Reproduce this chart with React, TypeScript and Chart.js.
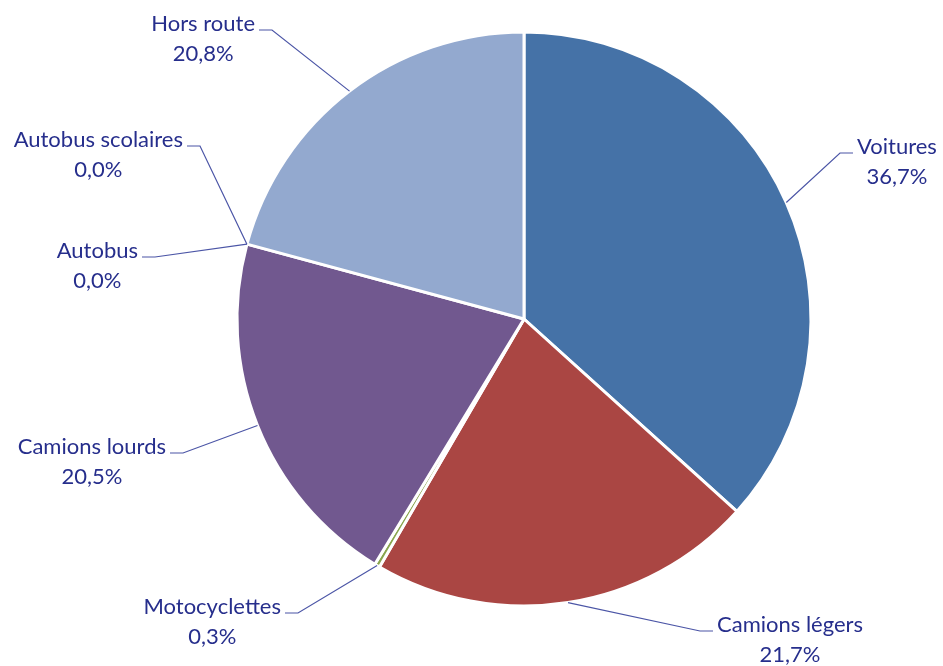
import React, { useEffect, useRef } from "react";
import { Chart, registerables } from "chart.js";

Chart.register(...registerables);

const categories = [
  "Voitures",
  "Camions légers",
  "Motocyclettes",
  "Camions lourds",
  "Autobus",
  "Autobus scolaires",
  "Hors route",
];
const shares = [36.7, 21.7, 0.3, 20.5, 0.0, 0.0, 20.8];
const sliceColors = ["#4572A7", "#AA4643", "#89A54E", "#71588F", "#4198AF", "#DB843D", "#93A9CF"];

// Elbow position of each leader line, relative to pie centre (layout only)
const elbowOffsets: [number, number, number][] = [
  [316, -166, 1],
  [176, 312, 1],
  [-226, 294, -1],
  [-341, 134, -1],
  [-369, -62, -1],
  [-324, -173, -1],
  [-252, -289, -1],
];

const TEXT_COLOR = "#262E8C";
const LINE_COLOR = "#4B55A6";
const FONT = "22px Lato, 'Open Sans', sans-serif";

const fmt = (v: number) => v.toFixed(1).replace(".", ",") + "%";

const labelPlugin = {
  id: "leaderLabels",
  afterDatasetsDraw(chart: any) {
    const ctx = chart.ctx;
    const meta = chart.getDatasetMeta(0);
    ctx.save();
    ctx.font = FONT;
    meta.data.forEach((arc: any, i: number) => {
      const { x, y, startAngle, endAngle, outerRadius } = arc.getProps(
        ["x", "y", "startAngle", "endAngle", "outerRadius"],
        true
      );
      const mid = (startAngle + endAngle) / 2;
      const sx = x + Math.cos(mid) * outerRadius;
      const sy = y + Math.sin(mid) * outerRadius;
      const [dx, dy, dir] = elbowOffsets[i];
      const ex = x + dx;
      const ey = y + dy;
      const hx = ex + dir * 13;
      ctx.strokeStyle = LINE_COLOR;
      ctx.lineWidth = 1.2;
      ctx.beginPath();
      ctx.moveTo(sx, sy);
      ctx.lineTo(ex, ey);
      ctx.lineTo(hx, ey);
      ctx.stroke();

      const l1 = categories[i];
      const l2 = fmt(shares[i]);
      const w = Math.max(ctx.measureText(l1).width, ctx.measureText(l2).width);
      const blockLeft = dir > 0 ? hx + 4 : hx - 4 - w;
      const cx = blockLeft + w / 2;
      ctx.fillStyle = TEXT_COLOR;
      ctx.textAlign = "center";
      ctx.textBaseline = "middle";
      ctx.fillText(l1, cx, ey - 6);
      ctx.fillText(l2, cx, ey + 24);
    });
    ctx.restore();
  },
};

export default function App() {
  const ref = useRef<HTMLCanvasElement>(null);
  useEffect(() => {
    if (!ref.current) return;
    const chart = new Chart(ref.current, {
      type: "pie",
      data: {
        labels: categories,
        datasets: [
          {
            data: shares,
            backgroundColor: sliceColors,
            borderColor: "#ffffff",
            borderWidth: 3,
          },
        ],
      },
      options: {
        animation: false,
        responsive: false,
        layout: { padding: { left: 235.5, right: 130.5, top: 30.5, bottom: 58.5 } },
        plugins: {
          legend: { display: false },
          tooltip: { enabled: false },
        },
      },
      plugins: [labelPlugin],
    });
    return () => chart.destroy();
  }, []);
  return (
    <div style={{ position: "fixed", left: 0, top: 0, width: 943, height: 666, background: "#fff" }}>
      <canvas ref={ref} width={943} height={666} style={{ width: 943, height: 666 }} />
    </div>
  );
}
